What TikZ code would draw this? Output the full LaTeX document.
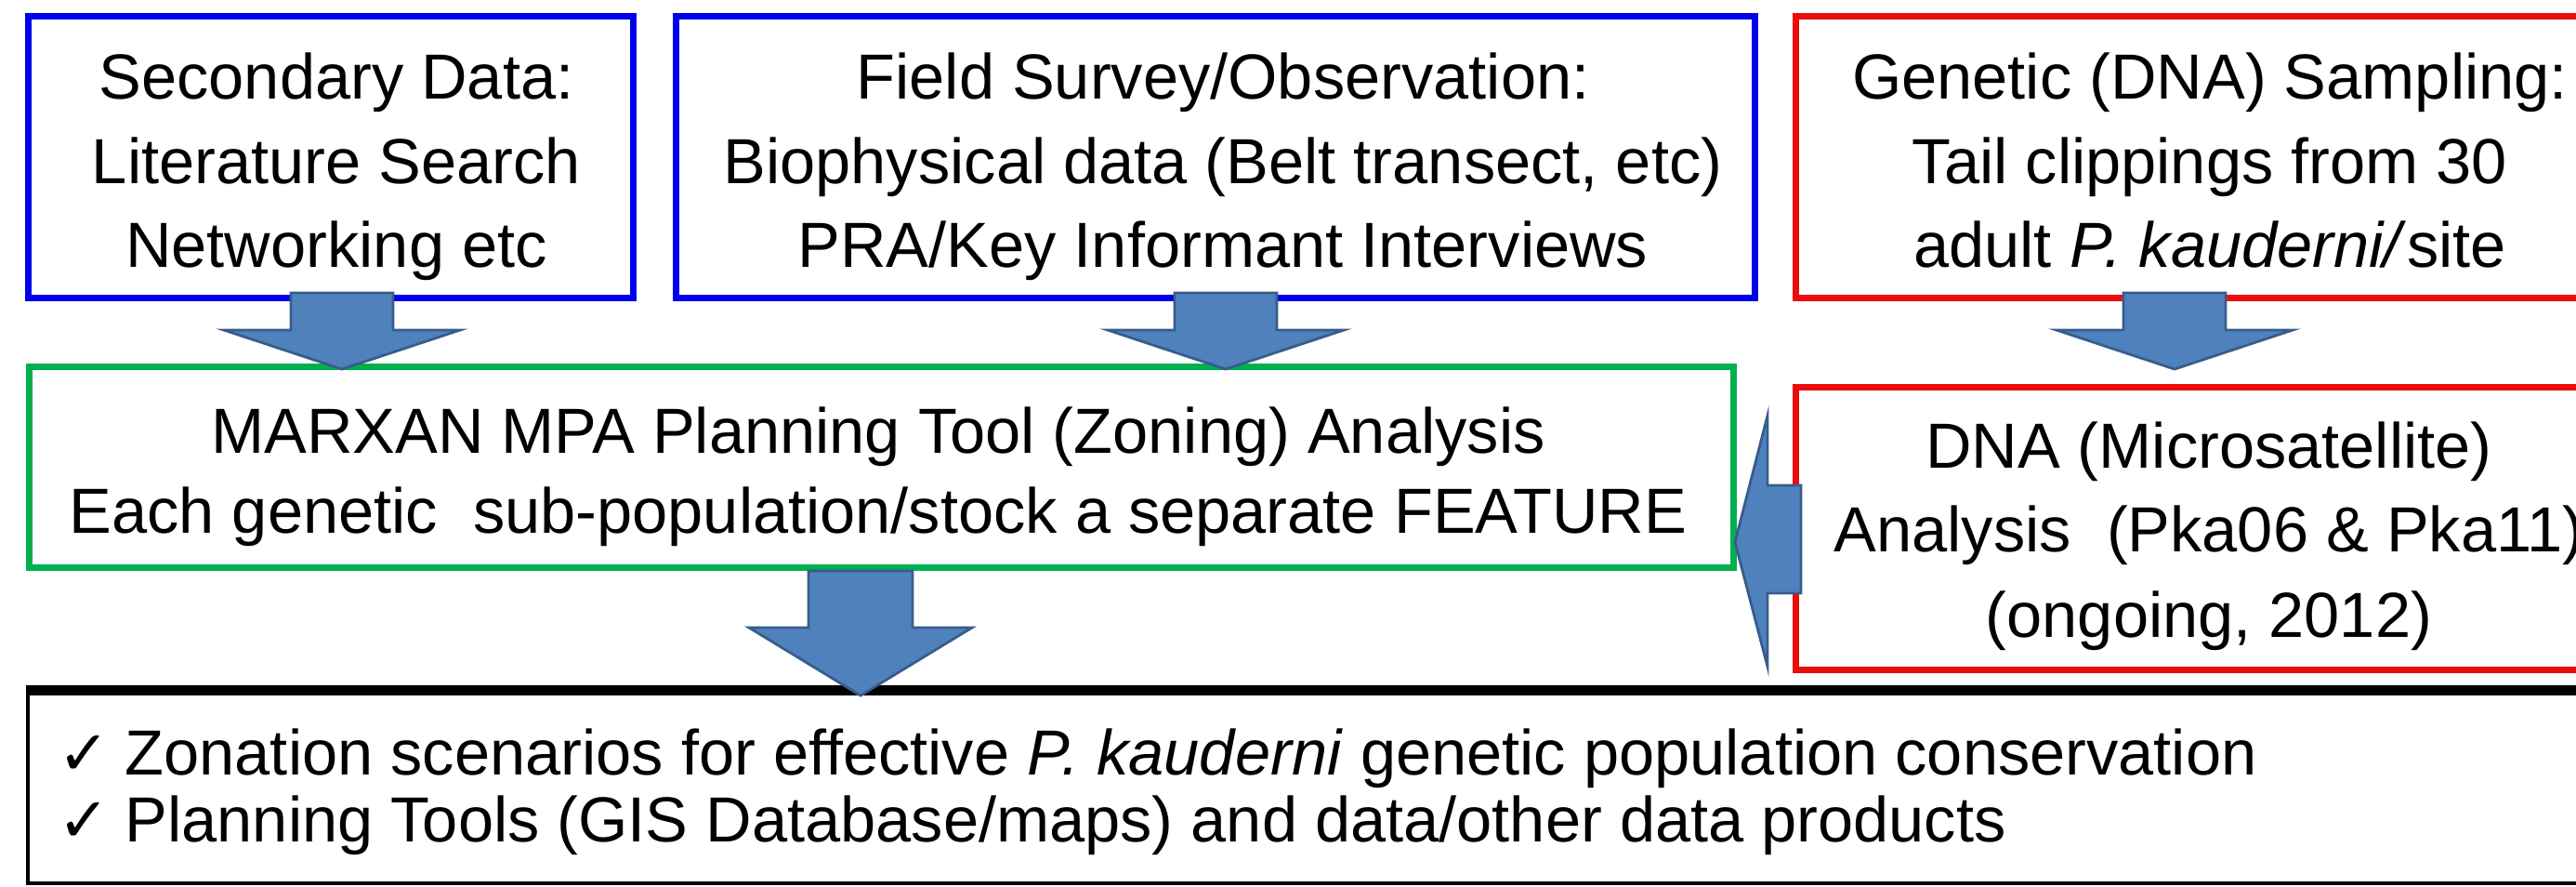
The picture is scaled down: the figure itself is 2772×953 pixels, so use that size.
\documentclass[tikz,border=0pt]{standalone}
\usepackage{fontspec}
\setmainfont{Liberation Sans}
\newfontfamily\symfont{DejaVu Sans}
\definecolor{boxblue}{RGB}{0,0,235}
\definecolor{boxred}{RGB}{235,12,12}
\definecolor{boxgreen}{RGB}{0,176,80}
\definecolor{arrfill}{RGB}{79,129,189}
\definecolor{arrline}{RGB}{56,93,138}
\tikzset{
  frame/.style={draw, line width=2pt, inner sep=0pt, fill=white},
  txt/.style={anchor=base, inner sep=0pt, font=\fontsize{19.5}{24}\selectfont},
  txtl/.style={anchor=base west, inner sep=0pt, font=\fontsize{19.5}{24}\selectfont},
  checkmk/.style={anchor=base west, inner sep=0pt, font=\symfont\fontsize{19}{22}\selectfont},
  blockarrow/.style={fill=arrfill, draw=arrline, line width=0.8pt, line join=miter}
}
\begin{document}
\begin{tikzpicture}[x=0.01cm, y=-0.01cm]
\useasboundingbox (0,0) rectangle (2772,953);
\clip (0,0) rectangle (2772,953);
\fill[white] (0,0) rectangle (2772,953);
% boxes
\node[frame, draw=boxblue, minimum width=6.50cm, minimum height=3.02cm] (b1) at (356,169) {};
\node[frame, draw=boxblue, minimum width=11.60cm, minimum height=3.02cm] (b2) at (1308,169) {};
\node[frame, draw=boxred, minimum width=8.97cm, minimum height=3.02cm] (b3) at (2381.5,169) {};
\node[frame, draw=boxgreen, minimum width=18.33cm, minimum height=2.15cm] (g) at (948.5,502.5) {};
\node[frame, draw=boxred, minimum width=8.97cm, minimum height=3.03cm] (r2) at (2381.5,568.5) {};
\node[frame, draw=black, line width=1.3pt, minimum width=27.99cm, minimum height=2.05cm] (bk) at (1430.5,847.5) {};
\draw[line width=3pt] (bk.north west) -- (bk.north east);
% texts box 1
\node[txt] (t1a) at (362,106) {Secondary Data:};
\node[txt] (t1b) at (362,197) {Literature Search};
\node[txt] (t1c) at (362,287) {Networking etc};
% box 2
\node[txt] (t2a) at (1316,106) {Field Survey/Observation:};
\node[txt] (t2b) at (1316,197) {Biophysical data (Belt transect, etc)};
\node[txt] (t2c) at (1316,287) {PRA/Key Informant Interviews};
% box 3
\node[txt] (t3a) at (2378,106) {Genetic (DNA) Sampling:};
\node[txt] (t3b) at (2378,197) {Tail clippings from 30};
\node[txt] (t3c) at (2378,287) {adult \textit{P. kauderni/}site};
% green
\node[txt] (tga) at (945,487) {MARXAN MPA Planning Tool (Zoning) Analysis};
\node[txt] (tgb) at (945,573) {Each genetic\ \ sub-population/stock a separate FEATURE};
% red 2
\node[txt] (tra) at (2377,503) {DNA (Microsatellite)};
\node[txt] (trb) at (2377,593) {Analysis\ \ (Pka06 \& Pka11)};
\node[txt] (trc) at (2377,685) {(ongoing, 2012)};
% bottom
\node[checkmk] (c1) at (62,833) {✓};
\node[txtl] (tba) at (134,833) {Zonation scenarios for effective \textit{P. kauderni} genetic population conservation};
\node[checkmk] (c2) at (62,905) {✓};
\node[txtl] (tbb) at (134,905) {Planning Tools (GIS Database/maps) and data/other data products};
% arrows
\draw[blockarrow] (313,315) -- (423,315) -- (423,355) -- (495,355) -- (368,397) -- (241,355) -- (313,355) -- cycle;
\draw[blockarrow] (1264,315) -- (1374,315) -- (1374,355) -- (1446,355) -- (1319,397) -- (1192,355) -- (1264,355) -- cycle;
\draw[blockarrow] (2285,315) -- (2395,315) -- (2395,355) -- (2467,355) -- (2340,397) -- (2213,355) -- (2285,355) -- cycle;
\draw[blockarrow] (870,614) -- (982,614) -- (982,675) -- (1046,675) -- (926,748) -- (806,675) -- (870,675) -- cycle;
\draw[blockarrow] (1938,522) -- (1902,522) -- (1902,447) -- (1867,583) -- (1902,717) -- (1902,638) -- (1938,638) -- cycle;
\end{tikzpicture}
\end{document}
